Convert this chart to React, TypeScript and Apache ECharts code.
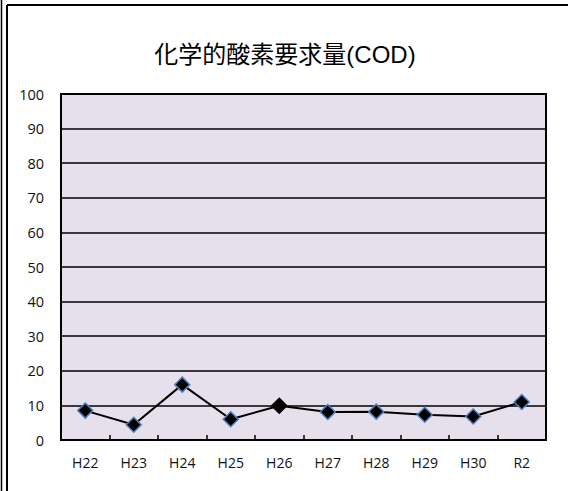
import React, { useEffect, useRef } from "react";
import * as echarts from "echarts";

const categories = ["H22", "H23", "H24", "H25", "H26", "H27", "H28", "H29", "H30", "R2"];
const codValues = [8.5, 4.4, 16.0, 6.0, 9.9, 8.1, 8.2, 7.3, 6.8, 11.0];
const yTicks = { min: 0, max: 100, interval: 10 };
const titleText = "化学的酸素要求量(COD)";

export default function App() {
  const ref = useRef<HTMLDivElement>(null);
  useEffect(() => {
    if (!ref.current) return;
    const chart = echarts.init(ref.current, null, { renderer: "svg" });
    const data = codValues.map((v, i) =>
      i === 4
        ? { value: v, itemStyle: { color: "#000", borderColor: "#000", borderWidth: 1.5 } }
        : v
    );
    chart.setOption({
      animation: false,
      backgroundColor: "#ffffff",
      graphic: [
        { type: "line", shape: { x1: 1.5, y1: 0, x2: 1.5, y2: 491 }, style: { stroke: "#000", lineWidth: 1.5 } },
        { type: "line", shape: { x1: 7, y1: 5, x2: 7, y2: 491 }, style: { stroke: "#000", lineWidth: 2 } },
        { type: "rect", shape: { x: 7, y: 4, width: 561, height: 2 }, style: { fill: "#000" } },
        {
          type: "text",
          x: 285,
          y: 54,
          style: {
            text: titleText,
            fontSize: 24,
            fontFamily: "'Liberation Sans', 'Noto Sans CJK JP', sans-serif",
            fill: "#000",
            align: "center",
            verticalAlign: "middle",
          },
        },
      ],
      grid: {
        left: 61,
        right: 22,
        top: 94,
        bottom: 51,
        show: true,
        backgroundColor: "#e5e0ec",
        borderColor: "#000",
        borderWidth: 2,
      },
      xAxis: {
        type: "category",
        data: categories,
        boundaryGap: true,
        axisLine: { lineStyle: { color: "#000", width: 2 } },
        axisTick: { show: true, inside: true, length: 5, lineStyle: { color: "#000", width: 1.5 } },
        axisLabel: { color: "#111", fontSize: 14, fontFamily: "'Open Sans', sans-serif", margin: 15 },
      },
      yAxis: {
        type: "value",
        min: yTicks.min,
        max: yTicks.max,
        interval: yTicks.interval,
        axisLine: { show: true, lineStyle: { color: "#000", width: 2 } },
        axisTick: { show: false },
        splitLine: { show: true, lineStyle: { color: "#000", width: 1.5 } },
        axisLabel: { color: "#111", fontSize: 14.5, fontFamily: "'Open Sans', sans-serif", margin: 17 },
      },
      series: [
        {
          type: "line",
          data,
          symbol: "diamond",
          symbolSize: 15,
          lineStyle: { color: "#000", width: 2 },
          itemStyle: { color: "#000", borderColor: "#4f81bd", borderWidth: 1.5 },
          z: 3,
        },
      ],
    });
    return () => chart.dispose();
  }, []);
  return (
    <div style={{ position: "fixed", left: 0, top: 0, width: 568, height: 491, overflow: "hidden", background: "#fff" }}>
      <div ref={ref} style={{ width: 568, height: 491 }} />
    </div>
  );
}
